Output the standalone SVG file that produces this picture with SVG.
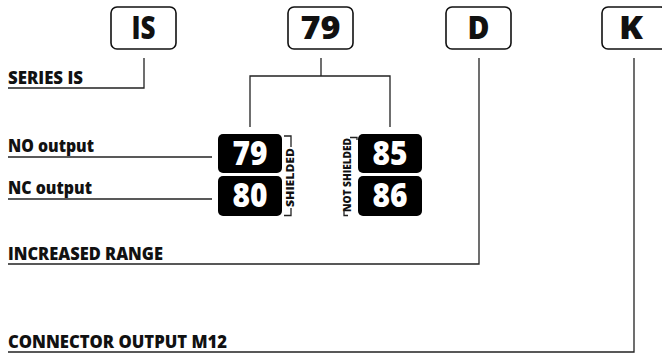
<svg xmlns="http://www.w3.org/2000/svg" width="662" height="354" viewBox="0 0 662 354">
<style>
.code{fill:#fff;stroke:#111;stroke-width:1.6}
.codet{font-family:"Open Sans","DejaVu Sans",sans-serif;font-weight:800;font-size:32px;fill:#111;text-anchor:middle}
.blk{fill:#000}
.blkt{font-family:"Open Sans","DejaVu Sans",sans-serif;font-weight:800;font-size:33px;fill:#fff;text-anchor:middle}
.lbl{font-family:"Open Sans","DejaVu Sans",sans-serif;font-weight:800;font-size:17.5px;fill:#111}
.sm{font-family:"Open Sans","DejaVu Sans",sans-serif;font-weight:800;font-size:10.5px;fill:#111;text-anchor:middle}
.ln{fill:none;stroke:#222;stroke-width:1.3}
</style>
<g id="node-IS"><rect class="code" x="111" y="7" width="65" height="42" rx="6"/><text class="codet" x="143.5" y="39" textLength="24" lengthAdjust="spacingAndGlyphs">IS</text></g>
<g id="node-79top"><rect class="code" x="288" y="7" width="65" height="42" rx="6"/><text class="codet" x="320.5" y="39" textLength="40" lengthAdjust="spacingAndGlyphs">79</text></g>
<g id="node-D"><rect class="code" x="446" y="7" width="65" height="42" rx="6"/><text class="codet" x="478.5" y="39" textLength="22" lengthAdjust="spacingAndGlyphs">D</text></g>
<g id="node-K"><rect class="code" x="602" y="7" width="65" height="42" rx="6"/><text class="codet" x="631" y="39" textLength="24" lengthAdjust="spacingAndGlyphs">K</text></g>
<g id="node-79"><rect class="blk" x="218" y="134" width="64" height="39" rx="5"/><text class="blkt" x="250" y="165" textLength="35" lengthAdjust="spacingAndGlyphs">79</text></g>
<g id="node-80"><rect class="blk" x="218" y="176" width="64" height="40" rx="5"/><text class="blkt" x="250" y="207" textLength="35" lengthAdjust="spacingAndGlyphs">80</text></g>
<g id="node-85"><rect class="blk" x="358" y="134" width="64" height="39" rx="5"/><text class="blkt" x="390" y="165" textLength="35" lengthAdjust="spacingAndGlyphs">85</text></g>
<g id="node-86"><rect class="blk" x="358" y="176" width="64" height="40" rx="5"/><text class="blkt" x="390" y="207" textLength="35" lengthAdjust="spacingAndGlyphs">86</text></g>
<g id="labels">
<text class="lbl" x="8" y="84" textLength="75" lengthAdjust="spacingAndGlyphs">SERIES IS</text>
<text class="lbl" x="8" y="152" textLength="86" lengthAdjust="spacingAndGlyphs">NO output</text>
<text class="lbl" x="8" y="194" textLength="84" lengthAdjust="spacingAndGlyphs">NC output</text>
<text class="lbl" x="8" y="260" textLength="155" lengthAdjust="spacingAndGlyphs">INCREASED RANGE</text>
<text class="lbl" x="8" y="348" textLength="219" lengthAdjust="spacingAndGlyphs">CONNECTOR OUTPUT M12</text>
<text class="sm" transform="translate(294,177.5) rotate(-90)" textLength="59" lengthAdjust="spacingAndGlyphs">SHIELDED</text>
<text class="sm" transform="translate(351,175) rotate(-90)" textLength="74" lengthAdjust="spacingAndGlyphs">NOT SHIELDED</text>
</g>
<g id="connectors">
<path class="ln" d="M144,58 V88 H8"/>
<path class="ln" d="M321,58 V76 M250,127 V76 H390 V127"/>
<path class="ln" d="M212,157 H8"/>
<path class="ln" d="M212,199 H8"/>
<path class="ln" d="M479,58 V264 H8"/>
<path class="ln" d="M634,58 V352 H8"/>
<path class="ln" d="M284,136 H291 V147 M291,208 V215.5 H284"/>
<path class="ln" d="M350,137.5 H357 V140 M344,210 V215.5 H348"/>
</g>
</svg>
